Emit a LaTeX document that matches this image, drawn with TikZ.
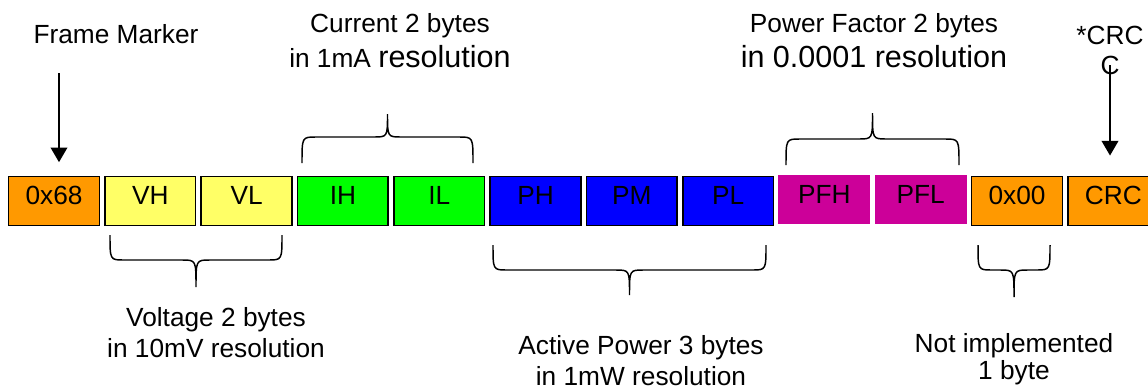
\documentclass[tikz,border=0pt]{standalone}
\usepackage{fontspec}
\setmainfont{Liberation Sans}
\usetikzlibrary{arrows.meta}

\definecolor{hdrorange}{HTML}{FF9900}
\definecolor{voltyellow}{HTML}{FFFF66}
\definecolor{curgreen}{HTML}{00FF00}
\definecolor{powblue}{HTML}{0000FF}
\definecolor{pfmagenta}{HTML}{CC0099}

\newcommand{\resfont}{\fontsize{22.9pt}{26pt}\selectfont}

% curly brace over/under a group of bytes:
% #1 left x, #2 right x, #3 y of the arm ends, #4 y of the flat part, #5 y of the tip
\newcommand{\groupbrace}[5]{%
  \draw[bracepath] (#1,#3) .. controls (#1,#4) .. ({#1+14},#4)
    -- ({(#1+#2)/2-14},#4) .. controls ({(#1+#2)/2},#4) .. ({(#1+#2)/2},#5)
    .. controls ({(#1+#2)/2},#4) .. ({(#1+#2)/2+14},#4)
    -- ({#2-14},#4) .. controls (#2,#4) .. (#2,#3);}

\tikzset{
    byte/.style={minimum width=68pt, minimum height=37pt, inner sep=0pt,
        draw=black, line width=1.2pt, text height=0.75em, text depth=0.2em},
    plainbyte/.style={byte, draw=none, minimum width=69pt},
    note/.style={align=center, anchor=base, inner sep=0pt},
    marker/.style={-{Triangle[width=12.5pt,length=11pt]}, line width=1.2pt},
    bracepath/.style={line width=1.1pt},
}

\begin{document}
\begin{tikzpicture}[x=0.75pt, y=-0.75pt, font=\fontsize{19.7pt}{22.5pt}\selectfont]
\clip (0,0) rectangle (1148,386);

% Frame bytes
\node[byte, fill=hdrorange] (hdr) at (54,201) {0x68};
\node[byte, fill=voltyellow] (vh) at (150.3,201) {VH};
\node[byte, fill=voltyellow] (vl) at (246.6,201) {VL};
\node[byte, fill=curgreen] (ih) at (342.9,201) {IH};
\node[byte, fill=curgreen] (il) at (439.2,201) {IL};
\node[byte, fill=powblue] (ph) at (535.5,201) {PH};
\node[byte, fill=powblue] (pm) at (631.8,201) {PM};
\node[byte, fill=powblue] (pl) at (728.1,201) {PL};
\node[plainbyte, fill=pfmagenta] (pfh) at (824.4,199.5) {PFH};
\node[plainbyte, fill=pfmagenta] (pfl) at (920.7,199.5) {PFL};
\node[byte, fill=hdrorange] (spare) at (1017,201) {0x00};
\node[byte, fill=hdrorange] (crc) at (1113.3,201) {CRC};

% Labels above (base = last line)
\node[note] (fmlbl) at (116,43) {Frame Marker};
\node[note] (curlbl) at (400,67) {Current 2 bytes\\[3.75pt]in 1mA {\resfont resolution}};
\node[note] (pflbl) at (874,67) {Power Factor 2 bytes\\[3.75pt]{\resfont in 0.0001 resolution}};
\node[note] (crclbl) at (1110,74) {*CRC\\C};

% Labels below
\node[note] (voltlbl) at (216,357) {Voltage 2 bytes\\[0.5pt]in 10mV resolution};
\node[note] (powlbl) at (641,385) {Active Power 3 bytes\\[0.5pt]in 1mW resolution};
\node[note] (nilbl) at (1014,379) {Not implemented\\[-2.5pt]1 byte};

% Pointers
\coordinate (fmtail) at (59,73);
\coordinate (crctail) at (1110,65);
\draw[marker, shorten >=10pt] (fmtail) -- (fmtail |- hdr.north);
\draw[marker, shorten >=15pt] (crctail) -- (crctail |- crc.north);

% Braces
\groupbrace{302}{473}{163}{137}{114}
\groupbrace{786}{959}{165}{139}{113}
\groupbrace{110}{282}{235}{260}{287}
\groupbrace{493}{766}{245}{270}{295}
\groupbrace{978}{1050}{245}{270}{297}

\end{tikzpicture}
\end{document}
